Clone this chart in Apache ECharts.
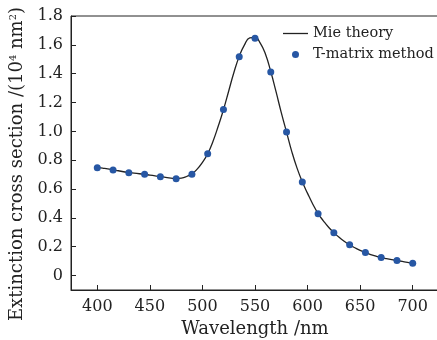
<!DOCTYPE html>
<html>
<head>
<meta charset="utf-8">
<script src="https://cdn.jsdelivr.net/npm/echarts@6/dist/echarts.min.js"></script>
<style>
  html, body { margin: 0; padding: 0; background: #fff; }
  #chart { width: 437px; height: 340px; }
</style>
</head>
<body>
<div id="chart"></div>
<script>
// Mie theory curve (read every 5 nm)
const mieWavelength = [400, 405, 410, 415, 420, 425, 430, 435, 440, 445, 450, 455, 460, 465, 470, 475, 480, 485, 490, 495,
  500, 505, 510, 515, 520, 525, 530, 535, 540, 545, 550, 555, 560, 565, 570, 575, 580, 585, 590, 595,
  600, 605, 610, 615, 620, 625, 630, 635, 640, 645, 650, 655, 660, 665, 670, 675, 680, 685, 690, 695, 700]
const mieValues = [0.750, 0.745, 0.740, 0.733, 0.727, 0.720, 0.714, 0.710, 0.706, 0.702, 0.697, 0.692, 0.687, 0.681, 0.676, 0.673, 0.676, 0.687, 0.705, 0.738,
  0.785, 0.845, 0.930, 1.035, 1.150, 1.280, 1.410, 1.520, 1.600, 1.648, 1.652, 1.612, 1.535, 1.415, 1.275, 1.130, 0.995, 0.860, 0.745, 0.650,
  0.570, 0.495, 0.430, 0.380, 0.335, 0.298, 0.265, 0.237, 0.213, 0.193, 0.175, 0.160, 0.146, 0.135, 0.125, 0.117, 0.110, 0.104, 0.098, 0.092, 0.087]

// T-matrix method points
const tmWavelength = [400, 415, 430, 445, 460, 475, 490, 505, 520, 535, 550, 565, 580, 595, 610, 625, 640, 655, 670, 685, 700]
const tmValues = [0.748, 0.732, 0.713, 0.702, 0.686, 0.672, 0.702, 0.845, 1.151, 1.517, 1.645, 1.411, 0.996, 0.649, 0.429, 0.297, 0.213, 0.160, 0.125, 0.104, 0.086]

const xTicks = [400, 450, 500, 550, 600, 650, 700]
const yTicks = [0, 0.2, 0.4, 0.6, 0.8, 1.0, 1.2, 1.4, 1.6, 1.8]

const font = 'DejaVu Serif'
const chart = echarts.init(document.getElementById('chart'), null, { renderer: 'canvas' })

const option = {
  animation: false,
  backgroundColor: '#fff',
  grid: {
    left: 71,
    top: 16,
    right: -2,
    bottom: 50,
    outerBoundsMode: 'none',
    show: true,
    borderColor: '#222',
    borderWidth: 1
  },
  legend: {
    orient: 'vertical',
    left: 278,
    top: 21,
    itemWidth: 25,
    itemHeight: 7,
    itemGap: 6,
    symbolKeepAspect: true,
    textStyle: { fontFamily: font, fontSize: 14.5, color: '#222' },
    data: [
      { name: 'Mie theory', icon: 'path://M0,0H25V1.3H0Z' },
      { name: 'T-matrix method', icon: 'circle' }
    ]
  },
  xAxis: {
    type: 'value',
    min: 375,
    max: 725,
    name: 'Wavelength /nm',
    nameLocation: 'middle',
    nameGap: 29,
    nameTextStyle: { fontFamily: font, fontSize: 18, color: '#222' },
    axisLine: { show: true, onZero: false, lineStyle: { color: '#222' } },
    axisTick: { show: true, inside: true, length: 5, customValues: xTicks, lineStyle: { color: '#222' } },
    axisLabel: { customValues: xTicks, fontFamily: font, fontSize: 16, color: '#222', margin: 9 },
    splitLine: { show: false }
  },
  yAxis: {
    type: 'value',
    min: -0.1,
    max: 1.8,
    name: 'Extinction cross section /(10{sup|4} nm{sup|2})',
    nameLocation: 'middle',
    nameGap: 42,
    nameTextStyle: {
      fontFamily: font,
      fontSize: 18,
      color: '#222',
      padding: [0, 22, 0, 0],
      rich: {
        sup: { fontFamily: font, fontSize: 10, verticalAlign: 'top', padding: [0, 0, 8, 0], color: '#222' }
      }
    },
    axisLine: { show: true, onZero: false, lineStyle: { color: '#222' } },
    axisTick: { show: true, inside: true, length: 5, customValues: yTicks, lineStyle: { color: '#222' } },
    axisLabel: {
      customValues: yTicks,
      fontFamily: font,
      fontSize: 16,
      color: '#222',
      margin: 8,
      formatter: v => (v === 0 ? '0' : v.toFixed(1))
    },
    splitLine: { show: false }
  },
  series: [
    {
      name: 'Mie theory',
      type: 'line',
      smooth: true,
      symbol: 'none',
      data: mieWavelength.map((w, i) => [w, mieValues[i]]),
      itemStyle: { color: '#222' },
      lineStyle: { color: '#222', width: 1.3 },
      z: 2
    },
    {
      name: 'T-matrix method',
      type: 'scatter',
      symbol: 'circle',
      symbolSize: 7,
      data: tmWavelength.map((w, i) => [w, tmValues[i]]),
      itemStyle: { color: '#2757a4', opacity: 1 },
      z: 3
    }
  ]
}
chart.setOption(option)
</script>
</body>
</html>
